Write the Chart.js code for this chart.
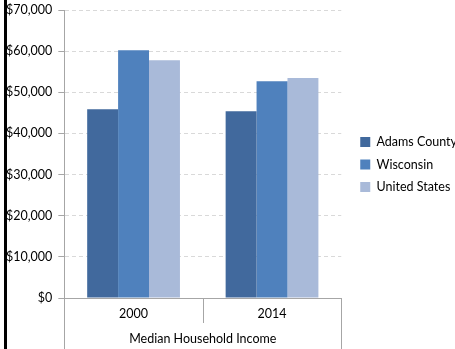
<!DOCTYPE html>
<html>
<head>
<meta charset="utf-8">
<script src="https://cdn.jsdelivr.net/npm/chart.js@4"></script>
<style>
  html, body { margin: 0; padding: 0; background: #fff; }
  #wrap { position: relative; width: 455px; height: 349px; }
  #edge { position: absolute; left: 4px; top: 0; width: 3px; height: 349px; background: #000; }
</style>
</head>
<body>
<div id="wrap">
  <canvas id="incomeChart" width="455" height="349"></canvas>
  <div id="edge"></div>
</div>
<script>
// chart data
const years = ['2000', '2014'];
const adamsCounty = [45900, 45400];
const wisconsin = [60200, 52700];
const unitedStates = [57800, 53500];
const yTicks = [0, 10000, 20000, 30000, 40000, 50000, 60000, 70000];

const axisGray = '#A6A6A6';

// draws the grouped category box under the x axis
const categoryBox = {
    id: 'categoryBox',
    afterLayout(chart) {
        // nudge legend to where the original sits
        const lg = chart.legend;
        lg.left += 9; lg.right += 9;
        lg.top -= 10; lg.bottom -= 10;
    },
    afterDraw(chart) {
        const x = chart.scales.x;
        const ctx = chart.ctx;
        const mid = (x.getPixelForTick(0) + x.getPixelForTick(1)) / 2;
        ctx.save();
        ctx.strokeStyle = axisGray;
        ctx.lineWidth = 1;
        ctx.beginPath();
        ctx.moveTo(Math.round(x.left) + 0.5, x.top);
        ctx.lineTo(Math.round(x.left) + 0.5, chart.height);
        ctx.moveTo(Math.round(x.right) + 0.5, x.top);
        ctx.lineTo(Math.round(x.right) + 0.5, chart.height);
        ctx.moveTo(Math.round(mid) + 0.5, x.top);
        ctx.lineTo(Math.round(mid) + 0.5, x.top + 25);
        ctx.stroke();
        ctx.restore();
    }
};

Chart.defaults.font.family = 'Lato, "Open Sans", sans-serif';
Chart.defaults.font.size = 12.5;
Chart.defaults.color = '#000';

new Chart(document.getElementById('incomeChart'), {
    type: 'bar',
    data: {
        labels: years,
        datasets: [
            { label: 'Adams County', data: adamsCounty, backgroundColor: '#41699D' },
            { label: 'Wisconsin', data: wisconsin, backgroundColor: '#4F81BD' },
            { label: 'United States', data: unitedStates, backgroundColor: '#A9BAD9' }
        ]
    },
    options: {
        responsive: false,
        animation: false,
        categoryPercentage: 0.67,
        barPercentage: 1.0,
        layout: { padding: 0 },
        plugins: {
            legend: {
                position: 'right',
                labels: { boxWidth: 10, boxHeight: 10, padding: 10 }
            },
            tooltip: { enabled: false }
        },
        scales: {
            x: {
                grid: { display: false, drawTicks: false },
                border: { color: axisGray },
                ticks: { padding: 8 },
                title: {
                    display: true,
                    text: 'Median Household Income',
                    padding: { top: 2, bottom: 3 }
                }
            },
            y: {
                min: 0,
                max: 70000,
                afterBuildTicks(axis) {
                    axis.ticks = yTicks.map(v => ({ value: v }));
                },
                afterFit(axis) {
                    axis.paddingTop = 10;
                },
                ticks: {
                    padding: 6,
                    callback: v => '$' + v.toLocaleString('en-US')
                },
                grid: {
                    color: '#D9D9D9',
                    tickColor: axisGray,
                    tickLength: 6
                },
                border: { color: axisGray, dash: [4, 3] }
            }
        }
    },
    plugins: [categoryBox]
});
</script>
</body>
</html>
